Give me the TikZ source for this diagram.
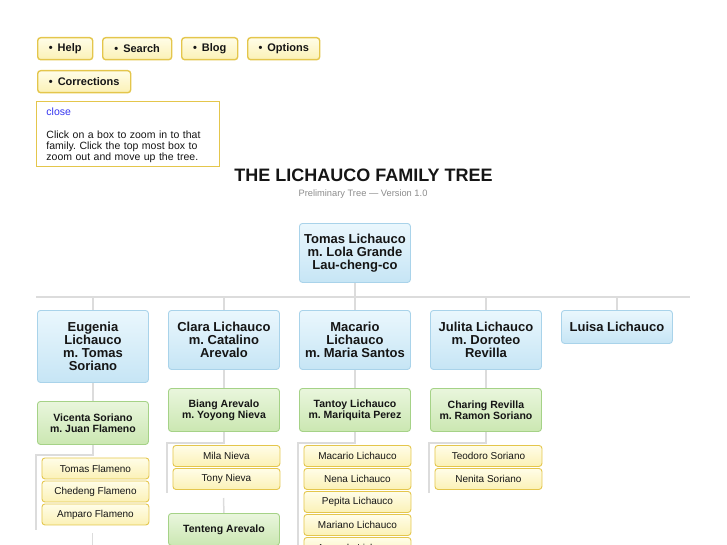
\documentclass[tikz,border=0pt]{standalone}
\usepackage{fontspec}
\setmainfont{Liberation Sans}
\usetikzlibrary{backgrounds}
\frenchspacing

\definecolor{persontop}{HTML}{EAF7FD}
\definecolor{personbot}{HTML}{C6E5F5}
\definecolor{personline}{HTML}{A9D3EA}
\definecolor{coupletop}{HTML}{E9F6DD}
\definecolor{couplebot}{HTML}{CBE7B2}
\definecolor{coupleline}{HTML}{A5D287}
\definecolor{childtop}{HTML}{FFFDE8}
\definecolor{childbot}{HTML}{FBF1B6}
\definecolor{childline}{HTML}{E4C64C}
\definecolor{linkgrey}{HTML}{DCDCDC}
\definecolor{linkblue}{HTML}{3535F0}
\definecolor{subgrey}{HTML}{8C8C8C}
\definecolor{boxtext}{HTML}{151515}

\tikzset{
  box/.style={draw, rounded corners=3pt, anchor=north west, minimum width=111pt,
    align=center, inner sep=2pt, line width=0.9pt, text=boxtext},
  person/.style={box, draw=personline, top color=persontop, bottom color=personbot,
    font=\bfseries\fontsize{13}{12.8}\selectfont},
  couple/.style={box, draw=coupleline, top color=coupletop, bottom color=couplebot,
    font=\bfseries\fontsize{10.5}{10.8}\selectfont, minimum height=43pt},
  child/.style={box, draw=childline, top color=childtop, bottom color=childbot,
    font=\fontsize{10}{12}\selectfont, minimum width=107pt, minimum height=21pt},
  menubtn/.style={draw=childline, line width=1.4pt, rounded corners=3pt,
    top color=childtop, bottom color=childbot, anchor=north west, inner sep=0pt,
    minimum height=22pt, text=boxtext, font=\bfseries\fontsize{11}{12}\selectfont},
  infobox/.style={draw=childline, line width=0.9pt, fill=white, anchor=north west,
    minimum width=183pt, minimum height=65pt, text width=163pt, inner xsep=10pt,
    inner ysep=2pt, align=left, text=boxtext, font=\fontsize{10.5}{11}\selectfont},
  link/.style={draw=linkgrey, line width=1.5pt},
}

\begin{document}
\begin{tikzpicture}[x=1pt,y=-1pt]
    \clip (0,0) rectangle (727,545);

    % Menu buttons
    \node[menubtn, minimum width=55pt] (help) at (37,37) {\textbullet\hspace{5pt}Help};
    \node[menubtn, minimum width=69pt] (search) at (102,37) {\textbullet\hspace{5pt}Search};
    \node[menubtn, minimum width=56pt] (blog) at (181,37) {\textbullet\hspace{5pt}Blog};
    \node[menubtn, minimum width=72pt] (options) at (247,37) {\textbullet\hspace{5pt}Options};
    \node[menubtn, minimum width=93pt] (corrections) at (37,70) {\textbullet\hspace{5pt}Corrections};

    % Help panel
    \node[infobox] (helptext) at (36,101) {\rule{0pt}{11pt}\textcolor{linkblue}{close}\\[12pt]
      Click on a box to zoom in to that\\
      family. Click the top most box to\\
      zoom out and move up the tree.};

    % Title
    \node[font=\bfseries\fontsize{18}{20}\selectfont, text=boxtext] (title) at (363.5,175.5)
      {THE LICHAUCO FAMILY TREE};
    \node[font=\fontsize{9.3}{10}\selectfont, text=subgrey] (subtitle) at (363,194)
      {Preliminary Tree — Version 1.0};

    % Root couple
    \node[person, minimum height=59pt] (root) at (299,223)
      {Tomas Lichauco\\m. Lola Grande\\Lau-cheng-co};

    % Their children
    \node[person, minimum height=72pt] (c1) at (37,310) {Eugenia\\Lichauco\\m. Tomas\\Soriano};
    \node[person, minimum height=59pt] (c2) at (168,310) {Clara Lichauco\\m. Catalino\\Arevalo};
    \node[person, minimum height=59pt] (c3) at (299,310) {Macario\\Lichauco\\m. Maria Santos};
    \node[person, minimum height=59pt] (c4) at (430,310) {Julita Lichauco\\m. Doroteo\\Revilla};
    \node[person, minimum height=33pt] (c5) at (561,310) {Luisa Lichauco};

    % Grandchildren
    \node[couple] (g1) at (37,401) {Vicenta Soriano\\m. Juan Flameno};
    \node[couple] (g2) at (168,388) {Biang Arevalo\\m. Yoyong Nieva};
    \node[couple] (g3) at (299,388) {Tantoy Lichauco\\m. Mariquita Perez};
    \node[couple] (g4) at (430,388) {Charing Revilla\\m. Ramon Soriano};
    \node[couple, minimum height=32pt] (g5) at (168,513) {Tenteng Arevalo};

    % Great-grandchildren
    \foreach \name [count=\k] in {Tomas Flameno, Chedeng Flameno, Amparo Flameno}
        \node[child] (l1-\k) at (41.5,{434.5+23*\k}) {\name};
    \foreach \name [count=\k] in {Mila Nieva, Tony Nieva}
        \node[child] (l2-\k) at (172.5,{422+23*\k}) {\name};
    \foreach \name [count=\k] in {Macario Lichauco, Nena Lichauco, Pepita Lichauco,
                                  Mariano Lichauco, Amanda Lichauco}
        \node[child] (l3-\k) at (303.5,{422+23*\k}) {\name};
    \foreach \name [count=\k] in {Teodoro Soriano, Nenita Soriano}
        \node[child] (l4-\k) at (434.5,{422+23*\k}) {\name};

    % Connectors
    \begin{scope}[on background layer]
        \coordinate (barW) at (36,297);
        \coordinate (barE) at (690,297);
        \draw[link] (barW) -- (barE);
        \draw[link] (root.south) -- (root.south |- barW);
        \foreach \i in {1,...,5}
            \draw[link] (c\i.north) -- (c\i.north |- barW);
        \foreach \i in {1,...,4}
            \draw[link] (c\i.south) -- (g\i.north);
        % branches down to the children lists
        \foreach \i/\bx/\by/\ey in {1/36/455/530, 2/167/443/493, 3/298/443/550, 4/429/443/493} {
            \coordinate (b\i) at (\bx,\by);
            \coordinate (e\i) at (\bx,\ey);
            \draw[link] (g\i.south) |- (b\i) -- (e\i);
        }
        % trunks going on to the next sibling
        \coordinate (t1a) at (92.5,533);
        \coordinate (t1b) at (92.5,550);
        \draw[link] (t1a) -- (t1b);
        \coordinate (t2) at (223.5,498);
        \draw[link] (t2) -- (g5.north);
    \end{scope}
\end{tikzpicture}
\end{document}
